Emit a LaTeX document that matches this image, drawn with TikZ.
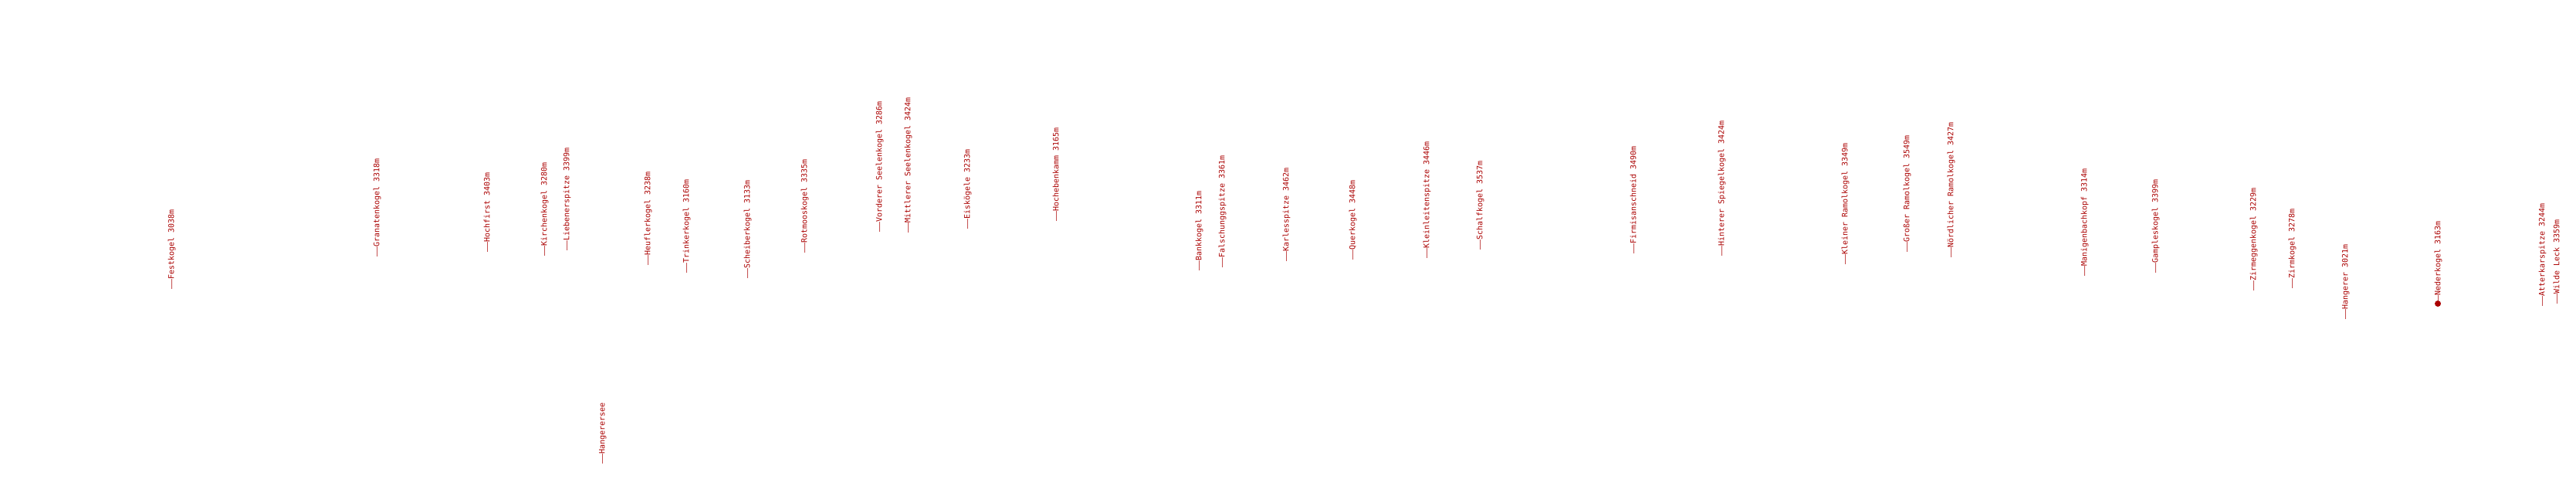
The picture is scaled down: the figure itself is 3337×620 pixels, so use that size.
\documentclass[tikz,border=0pt]{standalone}
\usepackage{fontspec}
\usepackage{graphicx}
\newfontfamily\peakfont{DejaVu Sans Mono}
\definecolor{peakred}{HTML}{AA0000}
\newcommand\pktick{\scalebox{2.15}[1]{—}}
\begin{document}
\begin{tikzpicture}[x=0.75pt,y=-0.75pt,
  peak/.style={rotate=90, anchor=west, inner sep=0pt, text=peakred,
    font=\peakfont\fontsize{7.5}{9}\selectfont, text height=0.75em, text depth=0.25em},
  peakdot/.style={circle, fill=peakred, inner sep=0pt, minimum size=6pt}]
\useasboundingbox (0,0) rectangle (3337,620);
\node[peak] (p1) at (222,375) {\pktick Festkogel 3038m};
\node[peak] (p2) at (488,333) {\pktick Granatenkogel 3318m};
\node[peak] (p3) at (631,327) {\pktick Hochfirst 3403m};
\node[peak] (p4) at (705,332) {\pktick Kirchenkogel 3280m};
\node[peak] (p5) at (734,325) {\pktick Liebenerspitze 3399m};
\node[peak] (p6) at (780,601) {\pktick Hangerersee};
\node[peak] (p7) at (839,344) {\pktick Heuflerkogel 3238m};
\node[peak] (p8) at (889,354) {\pktick Trinkerkogel 3160m};
\node[peak] (p9) at (968,361) {\pktick Scheiberkogel 3133m};
\node[peak] (p10) at (1042,328) {\pktick Rotmooskogel 3335m};
\node[peak] (p11) at (1139,301) {\pktick Vorderer Seelenkogel 3286m};
\node[peak] (p12) at (1176,302) {\pktick Mittlerer Seelenkogel 3424m};
\node[peak] (p13) at (1253,297) {\pktick Eiskögele 3233m};
\node[peak] (p14) at (1368,287) {\pktick Hochebenkamm 3165m};
\node[peak] (p15) at (1553,351) {\pktick Bankkogel 3311m};
\node[peak] (p16) at (1583,347) {\pktick Falschunggspitze 3361m};
\node[peak] (p17) at (1666,339) {\pktick Karlesspitze 3462m};
\node[peak] (p18) at (1752,337) {\pktick Querkogel 3448m};
\node[peak] (p19) at (1848,335) {\pktick Kleinleitenspitze 3446m};
\node[peak] (p20) at (1917,324) {\pktick Schalfkogel 3537m};
\node[peak] (p21) at (2116,329) {\pktick Firmisanschneid 3490m};
\node[peak] (p22) at (2230,332) {\pktick Hinterer Spiegelkogel 3424m};
\node[peak] (p23) at (2390,343) {\pktick Kleiner Ramolkogel 3349m};
\node[peak] (p24) at (2470,327) {\pktick Großer Ramolkogel 3549m};
\node[peak] (p25) at (2527,334) {\pktick Nördlicher Ramolkogel 3427m};
\node[peak] (p26) at (2700,358) {\pktick Manigenbachkopf 3314m};
\node[peak] (p27) at (2792,354) {\pktick Gampleskogel 3399m};
\node[peak] (p28) at (2919,377) {\pktick Zirmeggenkogel 3229m};
\node[peak] (p29) at (2969,374) {\pktick Zirmkogel 3278m};
\node[peak] (p30) at (3038,414) {\pktick Hangerer 3021m};
\node[peak] (p31) at (3158,396) {\pktick Nederkogel 3163m};
\node[peakdot] (d31) at (3158,393) {};
\node[peak] (p32) at (3293,397) {\pktick Atterkarspitze 3244m};
\node[peak] (p33) at (3312,394) {\pktick Wilde Leck 3359m};
\end{tikzpicture}
\end{document}
